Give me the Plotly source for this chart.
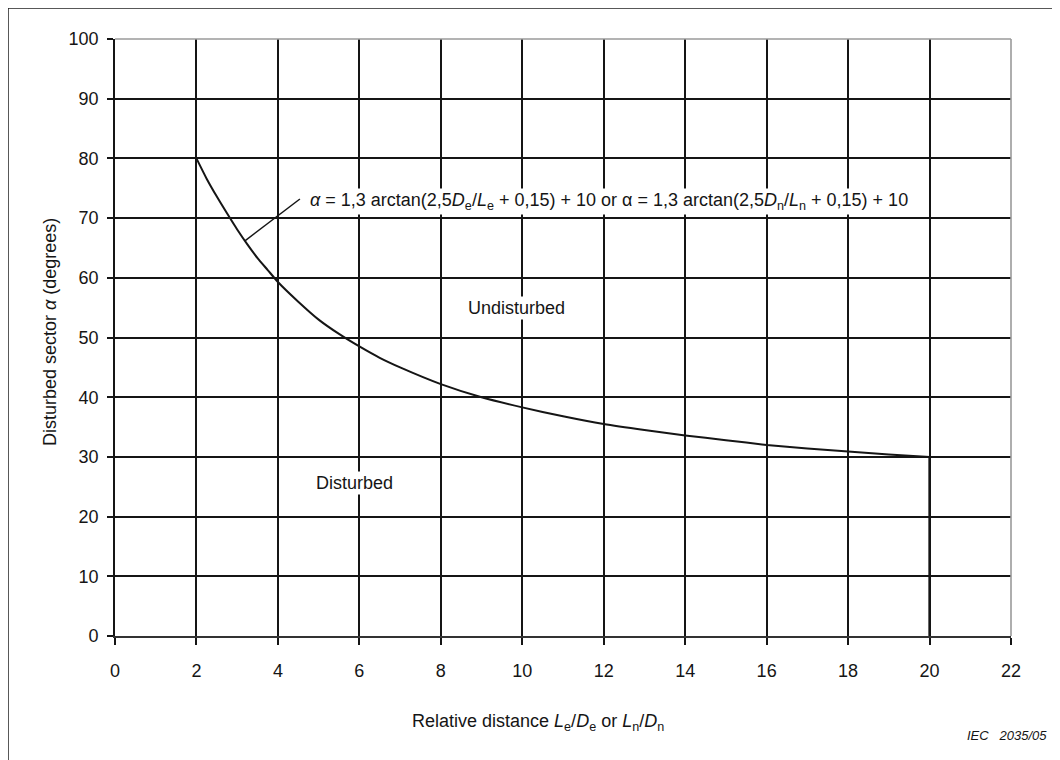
import numpy as np
import plotly.graph_objects as go

# Relative distance L/D and disturbed sector alpha (degrees)
rel_distance = [2, 2.25, 2.5, 2.75, 3, 3.25, 3.5, 3.75, 4, 4.5, 5, 5.5, 6, 6.5, 7, 8, 9, 10,
                11, 12, 13, 14, 15, 16, 17, 18, 19, 20]
alpha_deg = [80.0, 76.6, 73.6, 70.8, 68.1, 65.6, 63.3, 61.3, 59.3, 56.0, 53.0, 50.6, 48.5,
             46.6, 45.0, 42.2, 40.0, 38.3, 36.8, 35.5, 34.5, 33.6, 32.8, 32.0, 31.4, 30.9,
             30.4, 30.0]
# vertical limit line at L/D = 20
limit_x = [20, 20]
limit_y = [30.0, 0.0]

x_ticks = list(range(0, 23, 2))
y_ticks = list(range(0, 101, 10))

FONT = "Liberation Sans, Arial, Helvetica, sans-serif"
INK = "#151515"

# page offset of the figure (body margin) and figure geometry
OFF = 8
W, H = 1060, 760
l, r, t, b = 115 - OFF, W - (1011 - OFF), 39 - OFF, H - (636 - OFF)
pw, ph = W - l - r, H - t - b


def px_to_paper(sx, sy):
    """screen pixel -> paper coordinates"""
    fx, fy = sx - OFF, sy - OFF
    return (fx - l) / pw, (H - b - fy) / ph


fig = go.Figure()
fig.add_trace(go.Scatter(x=rel_distance, y=alpha_deg, mode="lines",
                         line=dict(color=INK, width=2, shape="spline", smoothing=0.6),
                         showlegend=False, hoverinfo="skip"))
fig.add_trace(go.Scatter(x=limit_x, y=limit_y, mode="lines",
                         line=dict(color=INK, width=2.4),
                         showlegend=False, hoverinfo="skip"))

# leader line from curve to formula label
lx0 = 3.19
ly0 = float(np.interp(lx0, rel_distance, alpha_deg))
fig.add_shape(type="line", xref="x", yref="y", x0=lx0, y0=ly0, x1=4.54, y1=73.2,
              line=dict(color=INK, width=1.5))

# outer frame (cropped in the reference)
fx0, fy0 = px_to_paper(OFF, OFF)
fx1, fy1 = px_to_paper(W + 40, H + 40)
fig.add_shape(type="rect", xref="paper", yref="paper", x0=fx0, x1=fx1, y0=fy1, y1=fy0,
              line=dict(color="#222222", width=1.5), layer="below")

fig.update_layout(
    width=W, height=H,
    margin=dict(l=l, r=r, t=t, b=b),
    paper_bgcolor="white", plot_bgcolor="white",
    font=dict(family=FONT, size=18, color=INK),
    xaxis=dict(range=[0, 22], tickvals=x_ticks, showgrid=True, gridcolor=INK,
               gridwidth=1.6, zeroline=False, ticks="outside", ticklen=7,
               tickcolor=INK, tickwidth=1.5, showline=True, linecolor="#333333",
               linewidth=2.2, ticklabelstandoff=10,
               tickfont=dict(size=18, family=FONT, color=INK)),
    yaxis=dict(range=[0, 100], tickvals=y_ticks, showgrid=True, gridcolor=INK,
               gridwidth=1.6, zeroline=False, ticks="outside", ticklen=6,
               tickcolor=INK, tickwidth=1.5, showline=True, linecolor=INK, linewidth=1.6,
               ticklabelstandoff=5,
               tickfont=dict(size=18, family=FONT, color=INK)),
)
# top and right borders (lighter)
fig.add_shape(type="line", xref="paper", yref="paper", x0=0, x1=1, y0=1, y1=1,
              line=dict(color="#9a9a9a", width=1.6))
fig.add_shape(type="line", xref="paper", yref="paper", x0=1, x1=1, y0=0, y1=1,
              line=dict(color="#9a9a9a", width=1.6))

ann_font = dict(family=FONT, size=18, color=INK)
fig.add_annotation(x=4.74, y=72.7, xref="x", yref="y", xanchor="left", yanchor="middle",
                   showarrow=False, bgcolor="white", font=ann_font, borderpad=1,
                   text="<i>α</i> = 1,3 arctan(2,5<i>D</i><sub>e</sub>/<i>L</i><sub>e</sub> + 0,15) + 10 or α = 1,3 arctan(2,5<i>D</i><sub>n</sub>/<i>L</i><sub>n</sub> + 0,15) + 10")
fig.add_annotation(x=9.86, y=55, xref="x", yref="y", showarrow=False, bgcolor="white",
                   xanchor="center", yanchor="middle", font=ann_font, text="Undisturbed")
fig.add_annotation(x=5.87, y=25.6, xref="x", yref="y", showarrow=False, bgcolor="white",
                   xanchor="center", yanchor="middle", font=ann_font, text="Disturbed")

ax_, ay_ = px_to_paper(50, 332)
fig.add_annotation(x=ax_, y=ay_, xref="paper", yref="paper", showarrow=False,
                   xanchor="center", yanchor="middle",
                   textangle=-90, font=dict(family=FONT, size=18, color=INK),
                   text="Disturbed sector <i>α</i> (degrees)")
ax_, ay_ = px_to_paper(538, 722)
fig.add_annotation(x=ax_, y=ay_, xref="paper", yref="paper", showarrow=False,
                   xanchor="center", yanchor="middle",
                   font=dict(family=FONT, size=18, color=INK),
                   text="Relative distance <i>L</i><sub>e</sub>/<i>D</i><sub>e</sub> or <i>L</i><sub>n</sub>/<i>D</i><sub>n</sub>")
ax_, ay_ = px_to_paper(1007, 735)
fig.add_annotation(x=ax_, y=ay_, xref="paper", yref="paper", showarrow=False,
                   xanchor="center", yanchor="middle",
                   font=dict(family=FONT, size=13, color=INK),
                   text="<i>IEC   2035/05</i>")

fig.write_html("out.html")
